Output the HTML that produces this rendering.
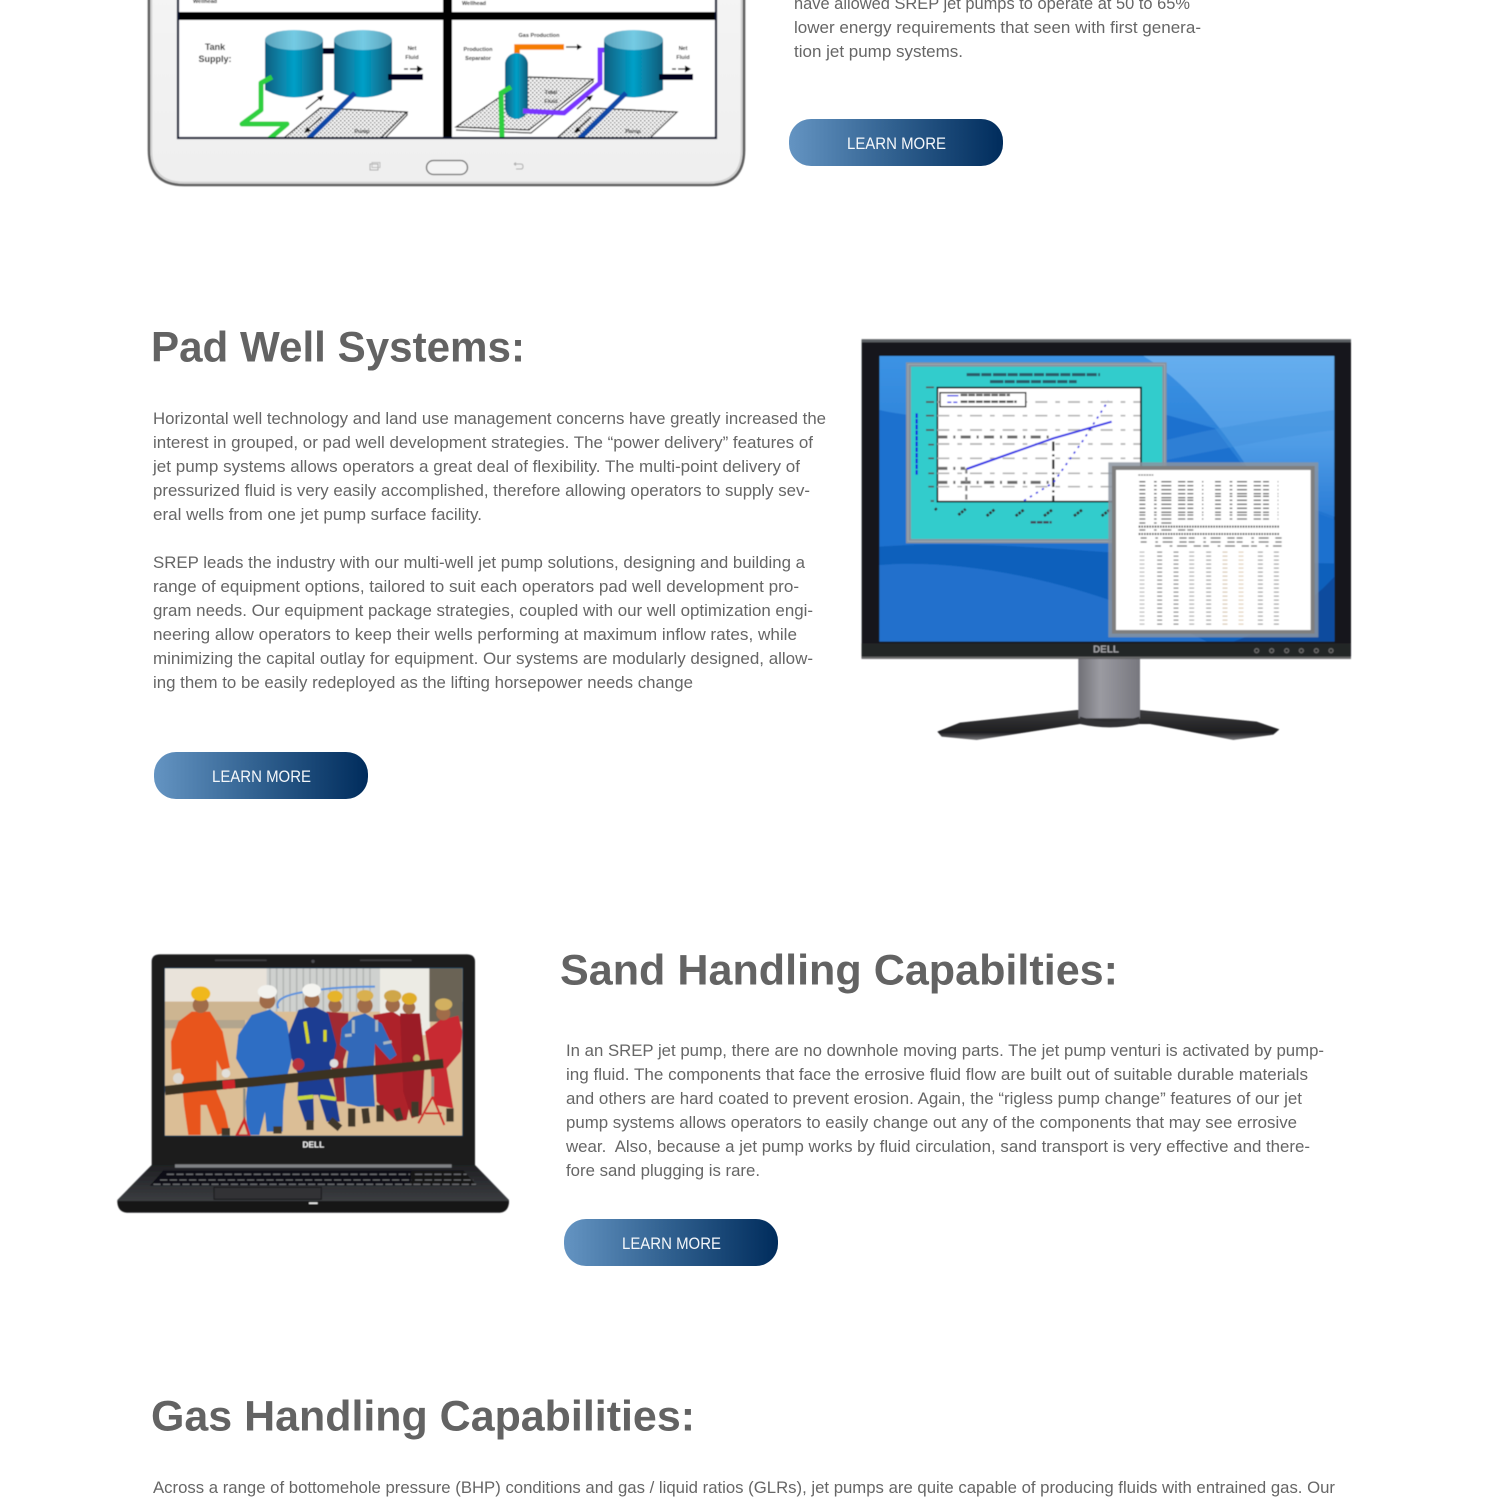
<!DOCTYPE html>
<html><head><meta charset="utf-8"><title>Jet Pump Systems</title>
<style>
html,body{margin:0;padding:0;background:#fff;width:1500px;height:1500px;overflow:hidden}
svg{display:block}
.b{font-family:"Liberation Sans",sans-serif;font-size:17px;fill:#666}
.h{font-family:"Liberation Sans",sans-serif;font-size:42.500px;font-weight:700;fill:#636363}
.l{font-family:"Liberation Sans",sans-serif;font-size:17px;fill:#f4f7fa}
.t{font-family:"Liberation Sans",sans-serif;font-weight:700;fill:#111;text-anchor:middle}
</style></head><body>
<svg width="1500" height="1500" viewBox="0 0 1500 1500" xmlns="http://www.w3.org/2000/svg">
<defs>
<linearGradient id="btn" x1="0" x2="1" y1="0" y2="0"><stop offset="0" stop-color="#6494c2"/><stop offset=".5" stop-color="#2f5f8e"/><stop offset="1" stop-color="#002c5c"/></linearGradient>
<linearGradient id="tank" x1="0" x2="1" y1="0" y2="0"><stop offset="0" stop-color="#0b5f80"/><stop offset=".5" stop-color="#05a0c8"/><stop offset="1" stop-color="#0b5a78"/></linearGradient>
<linearGradient id="tanktop" x1="0" x2="1" y1="0" y2="0"><stop offset="0" stop-color="#5aa0b8"/><stop offset=".5" stop-color="#74cbe4"/><stop offset="1" stop-color="#5aa0b8"/></linearGradient>
<linearGradient id="tab" x1="0" x2="0" y1="0" y2="1"><stop offset="0" stop-color="#f4f4f4"/><stop offset="1" stop-color="#efefef"/></linearGradient>
<linearGradient id="neck" x1="0" x2="1" y1="0" y2="0"><stop offset="0" stop-color="#6f6f76"/><stop offset=".35" stop-color="#9b9ba2"/><stop offset="1" stop-color="#77777e"/></linearGradient>
<linearGradient id="baseg" x1="0" x2="0" y1="0" y2="1"><stop offset="0" stop-color="#3c3c3e"/><stop offset=".75" stop-color="#1e1e20"/><stop offset="1" stop-color="#77777a"/></linearGradient>
<linearGradient id="scr" x1="0" x2="0" y1="0" y2="1"><stop offset="0" stop-color="#3c93e4"/><stop offset=".55" stop-color="#2074d0"/><stop offset="1" stop-color="#1b69c2"/></linearGradient>
<linearGradient id="lite" x1="0" x2="0" y1="0" y2="1"><stop offset="0" stop-color="#66aeee"/><stop offset=".55" stop-color="#4f9ce6"/><stop offset="1" stop-color="#2a7cd6"/></linearGradient>
<linearGradient id="lapb" x1="0" x2="0" y1="0" y2="1"><stop offset="0" stop-color="#1f2023"/><stop offset="1" stop-color="#44464a"/></linearGradient>
<clipPath id="tabclip"><rect x="179" y="-10" width="536" height="147"/></clipPath>
<clipPath id="monclip"><rect x="88" y="78" width="1365" height="857"/></clipPath>
<clipPath id="lapclip"><rect x="165" y="70" width="892" height="502"/></clipPath>
<pattern id="dots" width="4" height="4" patternUnits="userSpaceOnUse"><rect width="4" height="4" fill="#f4f4f4"/><rect x="0" y="0" width="1.500" height="1.500" fill="#777"/><rect x="2" y="2" width="1.500" height="1.500" fill="#8c8c8c"/></pattern>
<filter id="s1" x="-2%" y="-2%" width="104%" height="104%"><feGaussianBlur stdDeviation=".4"/></filter>
<filter id="s2" x="-2%" y="-2%" width="104%" height="104%"><feGaussianBlur stdDeviation="1.800"/></filter>
<filter id="s3" x="-2%" y="-2%" width="104%" height="104%"><feGaussianBlur stdDeviation="2.400"/></filter>
</defs>
<rect width="1500" height="1500" fill="#fff"/>

<!-- TABLET -->
<g filter="url(#s1)">
<path d="M149,-10 V150 Q149,185 184,185 H709 Q744,185 744,150 V-10 Z" fill="url(#tab)" stroke="#5e5e5e" stroke-width="2.600"/>
<path d="M151.500,-10 V150 Q151.500,182.500 184,182.500 H709 Q741.500,182.500 741.500,150 V-10" fill="none" stroke="#cfcfcf" stroke-width="1.500"/>
<rect x="178" y="-10" width="538" height="148" fill="#fff" stroke="#0c1230" stroke-width="2.200"/>
<g clip-path="url(#tabclip)">
<rect x="178" y="12" width="538" height="8" fill="#000"/>
<rect x="443" y="-10" width="9" height="148" fill="#000"/>
<polygon points="320,108 407,112 381,138 284,138" fill="url(#dots)" stroke="#222" stroke-width="1.200"/>
<path d="M407,112 L407,115 L385,138" fill="none" stroke="#222" stroke-width="1.200"/>
<path d="M265,40 V90 Q294,105 323,90 V40 Z" fill="url(#tank)"/><ellipse cx="294" cy="40" rx="29" ry="10" fill="url(#tanktop)"/>
<rect x="323" y="48" width="18" height="6" fill="#04041c"/>
<path d="M334,40 V90 Q363,105 392,90 V40 Z" fill="url(#tank)"/><ellipse cx="363" cy="40" rx="29" ry="10" fill="url(#tanktop)"/>
<rect x="388" y="74" width="35" height="6" fill="#04041c"/>
<polyline points="272,77 261,83 261,110 242,124 287,124 268,140" fill="none" stroke="#2fd040" stroke-width="5" stroke-linejoin="round"/>
<line x1="355" y1="93" x2="307" y2="140" stroke="#0b4aa8" stroke-width="5"/>
<path d="M306,109 L321,97 M306,131 L322,117" stroke="#111" stroke-width="1.200" fill="none"/>
<polygon points="324,95 317,97 321,101" fill="#111"/><polygon points="304,133 311,131 307,127" fill="#111"/>
<text class="t" x="215" y="50" font-size="9">Tank</text><text class="t" x="215" y="62" font-size="9">Supply:</text>
<text class="t" x="412" y="50" font-size="5.500">Net</text><text class="t" x="412" y="59" font-size="5.500">Fluid</text>
<path d="M404,69 h4 M410,69 h8" stroke="#111" stroke-width="1.200"/><polygon points="417,65.500 423,69 417,72.500" fill="#111"/>
<text class="t" x="362" y="133" font-size="5.500">Pump</text>
<text class="t" x="205" y="3" font-size="5.500">Wellhead</text>
<text class="t" x="474" y="5" font-size="5.500">Wellhead</text>
<polygon points="529,77 593,79 529,130 456,127" fill="url(#dots)" stroke="#222" stroke-width="1.200"/>
<path d="M593,79 L593,82 L531,133 L456,130" fill="none" stroke="#333" stroke-width="1.200"/>
<polygon points="591,108 677,112 650,138 557,138" fill="url(#dots)" stroke="#222" stroke-width="1.200"/>
<polyline points="517,58 517,47 564,47" fill="none" stroke="#f57c00" stroke-width="5.500"/>
<rect x="505" y="53" width="23" height="66" rx="11.500" fill="url(#tank)"/>
<polyline points="511,87 501,93 502,140" fill="none" stroke="#2fd040" stroke-width="5"/>
<polyline points="523,111 564,113 600,83 600,50 606,50" fill="none" stroke="#7a35ff" stroke-width="5"/>
<path d="M604,40 V90 Q633,105 663,90 V40 Z" fill="url(#tank)"/><ellipse cx="633.500" cy="40" rx="29.500" ry="10" fill="url(#tanktop)"/>
<rect x="659" y="74" width="34" height="6" fill="#04041c"/>
<line x1="626" y1="93" x2="578" y2="140" stroke="#0b4aa8" stroke-width="5"/>
<path d="M566,47 h12 M577,109 L590,97 M576,131 L591,117" stroke="#111" stroke-width="1.200" fill="none"/>
<polygon points="577,44 582,47 577,50" fill="#111"/><polygon points="593,95 586,97 590,101" fill="#111"/><polygon points="574,133 581,131 577,127" fill="#111"/>
<text class="t" x="539" y="37" font-size="5.500">Gas Production</text>
<text class="t" x="478" y="51" font-size="5.500">Production</text><text class="t" x="478" y="60" font-size="5.500">Separator</text>
<text class="t" x="551" y="94" font-size="5.500">Total</text><text class="t" x="551" y="103" font-size="5.500">Fluid</text>
<text class="t" x="683" y="50" font-size="5.500">Net</text><text class="t" x="683" y="59" font-size="5.500">Fluid</text>
<path d="M672,69 h4 M678,69 h8" stroke="#111" stroke-width="1.200"/><polygon points="685,65.500 691,69 685,72.500" fill="#111"/>
<text class="t" x="633" y="133" font-size="5.500">Pump</text>
</g>
<rect x="426.500" y="160.500" width="41" height="14" rx="7" fill="#f4f4f4" stroke="#666" stroke-width="1.300"/>
<rect x="370" y="164" width="8" height="6" fill="none" stroke="#aaa"/><rect x="372" y="162.500" width="8" height="5" fill="none" stroke="#bbb"/>
<path d="M514,164 h7 q2,0 2,2.500 q0,2.500 -2,2.500 h-5 M514,164 l2,-1.500 M514,164 l2,1.500" fill="none" stroke="#aaa"/>
</g>

<!-- TOP TEXT -->
<text class="b" x="794" y="9" textLength="396" lengthAdjust="spacingAndGlyphs">have allowed SREP jet pumps to operate at 50 to 65%</text>
<text class="b" x="794" y="33" textLength="407" lengthAdjust="spacingAndGlyphs">lower energy requirements that seen with first genera-</text>
<text class="b" x="794" y="57" textLength="169" lengthAdjust="spacingAndGlyphs">tion jet pump systems.</text>
<rect x="789" y="119" width="214" height="47" rx="22" fill="url(#btn)"/>
<text class="l" x="847" y="149" textLength="99" lengthAdjust="spacingAndGlyphs">LEARN MORE</text>

<!-- PAD WELL -->
<text class="h" x="151" y="361.500" textLength="374" lengthAdjust="spacingAndGlyphs">Pad Well Systems:</text>
<text class="b" x="153" y="424" textLength="673" lengthAdjust="spacingAndGlyphs">Horizontal well technology and land use management concerns have greatly increased the</text>
<text class="b" x="153" y="448" textLength="660" lengthAdjust="spacingAndGlyphs">interest in grouped, or pad well development strategies. The “power delivery” features of</text>
<text class="b" x="153" y="472" textLength="647" lengthAdjust="spacingAndGlyphs">jet pump systems allows operators a great deal of flexibility. The multi-point delivery of</text>
<text class="b" x="153" y="496" textLength="657" lengthAdjust="spacingAndGlyphs">pressurized fluid is very easily accomplished, therefore allowing operators to supply sev-</text>
<text class="b" x="153" y="520" textLength="329" lengthAdjust="spacingAndGlyphs">eral wells from one jet pump surface facility.</text>
<text class="b" x="153" y="568" textLength="652" lengthAdjust="spacingAndGlyphs">SREP leads the industry with our multi-well jet pump solutions, designing and building a</text>
<text class="b" x="153" y="592" textLength="646" lengthAdjust="spacingAndGlyphs">range of equipment options, tailored to suit each operators pad well development pro-</text>
<text class="b" x="153" y="616" textLength="660" lengthAdjust="spacingAndGlyphs">gram needs. Our equipment package strategies, coupled with our well optimization engi-</text>
<text class="b" x="153" y="640" textLength="644" lengthAdjust="spacingAndGlyphs">neering allow operators to keep their wells performing at maximum inflow rates, while</text>
<text class="b" x="153" y="664" textLength="660" lengthAdjust="spacingAndGlyphs">minimizing the capital outlay for equipment. Our systems are modularly designed, allow-</text>
<text class="b" x="153" y="688" textLength="540" lengthAdjust="spacingAndGlyphs">ing them to be easily redeployed as the lifting horsepower needs change</text>
<rect x="154" y="752" width="214" height="47" rx="22" fill="url(#btn)"/>
<text class="l" x="212" y="782" textLength="99" lengthAdjust="spacingAndGlyphs">LEARN MORE</text>

<!-- MONITOR (coordinates: 3x zoom) -->
<g transform="translate(850,330) scale(.33333)" filter="url(#s2)">
<polygon points="262,1205 330,1178 680,1140 870,1140 1220,1175 1288,1198 1270,1214 1150,1230 900,1182 690,1182 380,1230 275,1220" fill="url(#baseg)"/>
<rect x="685" y="985" width="185" height="180" fill="url(#neck)"/>
<path d="M690,1160 Q780,1190 868,1160 V1182 Q780,1202 690,1182Z" fill="#333335"/>
<rect x="35" y="28" width="1468" height="958" fill="#17181a"/>
<rect x="35" y="28" width="1468" height="9" fill="#5c6064"/>
<rect x="35" y="940" width="1468" height="46" fill="#242527"/>
<rect x="35" y="980" width="1468" height="6" fill="#6a6a6c"/>
<g clip-path="url(#monclip)">
<rect x="88" y="78" width="1365" height="857" fill="url(#scr)"/>
<path d="M880,78 C1000,150 1120,290 1235,480 L1453,560 V78Z" fill="url(#lite)"/>
<path d="M950,255 L1095,295 L1240,490 L1453,570 V935 H88 V240 C300,290 700,255 950,255Z" fill="#1f71cf"/>
<path d="M950,330 C1150,280 1320,260 1453,240 V300 C1300,320 1150,350 950,390Z" fill="#4190dc" opacity=".45"/>
<path d="M88,650 C500,620 950,700 1453,700 V935 H88Z" fill="#1160bc"/>
<path d="M88,705 C400,680 800,790 1070,935 H88Z" fill="#2070cc"/>
<path d="M1150,935 C1300,880 1400,800 1453,740 V935Z" fill="#0d4c9e"/>
</g>
<text x="768" y="968" font-family="Liberation Sans,sans-serif" font-weight="700" font-size="30" fill="#a4a4a8" text-anchor="middle">DELL</text>
<g fill="none" stroke="#6a6a6a" stroke-width="4"><circle cx="1220" cy="962" r="6"/><circle cx="1265" cy="962" r="6"/><circle cx="1310" cy="962" r="6"/><circle cx="1354" cy="962" r="6"/><circle cx="1399" cy="962" r="6"/><circle cx="1443" cy="962" r="6"/></g>
<!-- chart window -->
<rect x="168" y="97" width="782" height="543" fill="#86929e"/>
<rect x="174" y="103" width="770" height="531" fill="none" stroke="#a6afb8" stroke-width="2"/>
<rect x="183" y="110" width="754" height="517" fill="#33cccc"/>
<path d="M350,134 H750 M420,155 H680" stroke="#2c5a68" stroke-width="9" stroke-dasharray="40 4 30 5"/>
<rect x="262" y="173" width="611" height="342" fill="#fff" stroke="#111" stroke-width="5"/>
<path d="M262,216 H870 M262,257 H870 M262,300 H870 M262,342 H870 M262,385 H870 M262,430 H870 M262,470 H870" stroke="#b4b4b4" stroke-width="5" stroke-dasharray="36 24 14 24"/>
<path d="M262,321 H600 M262,415 H345 M262,457 H600" stroke="#6a6a6a" stroke-width="9" stroke-dasharray="30 18 6 16"/>
<path d="M610,335 V515" stroke="#333" stroke-width="7" stroke-dasharray="28 10 6 10"/>
<path d="M349,415 V515" stroke="#888" stroke-width="7" stroke-dasharray="16 10"/>
<polyline points="350,417 610,325 785,275" fill="none" stroke="#2727e6" stroke-width="6"/>
<polyline points="522,512 610,458 700,330 775,212" fill="none" stroke="#2727e6" stroke-width="5" stroke-dasharray="7 14"/>
<rect x="270" y="188" width="257" height="42" fill="#fff" stroke="#111" stroke-width="4"/>
<path d="M292,197 H325" stroke="#2727e6" stroke-width="4"/><path d="M292,217 H325" stroke="#2727e6" stroke-width="4" stroke-dasharray="12 6"/>
<path d="M332,195 H480 M332,215 H500" stroke="#555" stroke-width="7" stroke-dasharray="20 3"/>
<path d="M200,250 V435" stroke="#1515e0" stroke-width="6" stroke-dasharray="14 3"/>
<path d="M228,172 H252 M228,216 H252 M228,257 H252 M228,300 H252 M235,344 H252 M235,385 H252 M235,430 H252 M235,470 H252 M242,513 H252" stroke="#555" stroke-width="5"/>
<path d="M255,535 l5,5 M325,555 l22,-18 M410,558 l24,-20 M497,558 l26,-20 M582,558 l26,-20 M672,558 l26,-20 M755,558 l26,-20" stroke="#333" stroke-width="8" stroke-dasharray="8 3"/>
<path d="M542,577 H605" stroke="#445" stroke-width="7" stroke-dasharray="16 3"/>
<!-- report window -->
<rect x="775" y="397" width="630" height="525" fill="#8b94a0" fill-opacity=".85"/>
<rect x="786" y="408" width="608" height="503" fill="#7f7f7f"/>
<rect x="798" y="420" width="584" height="480" fill="#fff"/>
<path d="M865,435 H910" stroke="#777" stroke-width="4" stroke-dasharray="6 2"/>
<g stroke="#666" stroke-width="4" stroke-dasharray="18 26 8 14 30 20 22 6">
<path d="M868,455 H1060 M868,467 H1060 M868,479 H1060 M868,491 H1060 M868,503 H1060 M868,511 H1060 M868,523 H1060 M868,535 H1060 M868,547 H1060 M868,555 H1060 M868,567 H1060"/>
<path d="M1095,455 H1285 M1095,467 H1285 M1095,479 H1285 M1095,491 H1285 M1095,499 H1285 M1095,511 H1285 M1095,523 H1285 M1095,535 H1285 M1095,547 H1285 M1095,555 H1285 M1095,567 H1285"/>
<path d="M868,579 H965 M868,600 H1040 M872,624 H1295 M872,636 H1295 M915,648 H1295"/>
</g>
<path d="M866,590 H1290 M866,612 H1290" stroke="#555" stroke-width="6" stroke-dasharray="5 3"/>
<g stroke-width="15" stroke-dasharray="3 9" fill="none" stroke="#aaa">
<path d="M876,665 V885"/><path d="M929,665 V885" stroke="#666"/><path d="M978,665 V885" stroke="#666"/><path d="M1025,665 V885" stroke="#999"/><path d="M1076,665 V885" stroke="#888"/><path d="M1125,665 V885" stroke="#d0bca0"/><path d="M1173,665 V885" stroke="#dcc8ac"/><path d="M1231,665 V885" stroke="#888"/><path d="M1279,665 V885" stroke="#888"/>
</g>
</g>

<!-- SAND -->
<text class="h" x="560" y="984.500" textLength="558" lengthAdjust="spacingAndGlyphs">Sand Handling Capabilties:</text>
<text class="b" x="566" y="1056" textLength="758" lengthAdjust="spacingAndGlyphs">In an SREP jet pump, there are no downhole moving parts. The jet pump venturi is activated by pump-</text>
<text class="b" x="566" y="1080" textLength="742" lengthAdjust="spacingAndGlyphs">ing fluid. The components that face the errosive fluid flow are built out of suitable durable materials</text>
<text class="b" x="566" y="1104" textLength="736" lengthAdjust="spacingAndGlyphs">and others are hard coated to prevent erosion. Again, the “rigless pump change” features of our jet</text>
<text class="b" x="566" y="1128" textLength="731" lengthAdjust="spacingAndGlyphs">pump systems allows operators to easily change out any of the components that may see errosive</text>
<text class="b" x="566" y="1152" textLength="744" lengthAdjust="spacingAndGlyphs" xml:space="preserve">wear.  Also, because a jet pump works by fluid circulation, sand transport is very effective and there-</text>
<text class="b" x="566" y="1176" textLength="194" lengthAdjust="spacingAndGlyphs">fore sand plugging is rare.</text>
<rect x="564" y="1219" width="214" height="47" rx="22" fill="url(#btn)"/>
<text class="l" x="622" y="1249" textLength="99" lengthAdjust="spacingAndGlyphs">LEARN MORE</text>

<!-- LAPTOP (coordinates: 3x zoom) -->
<g transform="translate(110,945) scale(.33333)" filter="url(#s2)">
<path d="M125,660 V50 Q125,28 150,28 H1070 Q1095,28 1095,50 V660 Z" fill="#1b1c1f"/>
<path d="M125,660 H1095 L1197,765 Q1197,800 1170,803 H50 Q22,800 22,765 Z" fill="url(#lapb)"/>
<path d="M22,768 H1197 Q1197,800 1170,803 H50 Q22,800 22,768Z" fill="#131416"/>
<rect x="195" y="658" width="830" height="10" fill="#808285"/>
<path d="M160,676 H905 L900,722 H120Z" fill="#101114"/>
<path d="M905,676 H1060 L1100,722 H900Z" fill="#121316"/>
<path d="M170,688 H900 M150,705 H905 M130,718 H905 M915,688 H1070 M915,705 H1090 M910,718 H1098" stroke="#6a6c6f" stroke-width="4" stroke-dasharray="22 7"/>
<rect x="312" y="727" width="322" height="36" fill="#303235" stroke="#141517" stroke-width="3"/>
<rect x="597" y="772" width="26" height="5" fill="#eee"/>
<path d="M315,46 H470 M750,46 H905" stroke="#3c3d40" stroke-width="5"/>
<circle cx="609" cy="49" r="5" fill="#4a4b4f"/>
<text x="610" y="607" font-family="Liberation Sans,sans-serif" font-weight="700" font-size="25" fill="#f6f6f6" text-anchor="middle">DELL</text>
<rect x="163" y="68" width="896" height="506" fill="#0d3c5e"/>
<g clip-path="url(#lapclip)">
<rect x="165" y="70" width="892" height="502" fill="#dbbe96"/>
<rect x="165" y="70" width="892" height="100" fill="#e9e3da"/>
<rect x="165" y="170" width="310" height="55" fill="#cdb591"/>
<rect x="470" y="70" width="340" height="130" fill="#cfd1cf"/>
<path d="M480,70 V200 M500,70 V200 M520,70 V200 M540,70 V200 M560,70 V200 M580,70 V200 M600,70 V200 M620,70 V200 M640,70 V200 M660,70 V200 M680,70 V200 M700,70 V200 M720,70 V200 M740,70 V200 M760,70 V200 M780,70 V200" stroke="#b5b8b6" stroke-width="5"/>
<rect x="810" y="70" width="150" height="200" fill="#ecebe4"/>
<rect x="958" y="70" width="100" height="160" fill="#6a6455"/>
<rect x="165" y="225" width="240" height="25" fill="#8a8c86" opacity=".5"/>
<path d="M505,190 Q490,160 560,145 Q660,125 795,125" fill="none" stroke="#5b93dd" stroke-width="6"/>
<!-- back row -->
<polygon points="650,200 715,205 715,300 700,350 705,470 680,470 660,340" fill="#a02a30"/>
<polygon points="790,210 848,200 915,240 925,330 905,345 905,450 890,525 860,530 800,470" fill="#ae2029"/>
<polygon points="870,205 930,205 945,340 935,510 905,520 880,440" fill="#9b1f27"/>
<polygon points="945,260 990,225 1045,212 1057,260 1052,320 1010,370 1030,490 975,480 960,360" fill="#c82a33"/>
<!-- orange -->
<polygon points="245,200 300,200 338,260 360,368 335,375 320,345 320,440 345,500 358,560 322,570 290,480 272,480 272,570 235,570 222,480 215,400 212,370 185,375 183,290 205,230" fill="#e8551f"/>
<!-- blue 1 -->
<polygon points="425,210 480,193 530,230 548,330 530,400 520,470 518,560 470,560 465,500 448,570 412,570 407,470 415,400 395,370 378,340 385,270" fill="#2e6ec4"/>
<!-- navy -->
<polygon points="565,195 610,183 655,205 680,300 670,350 655,395 678,460 690,530 650,530 625,450 610,450 612,530 585,530 562,460 565,390 545,340 535,270" fill="#1a3d92"/>
<path d="M585,230 L595,295 M645,255 V290" stroke="#d5d52a" stroke-width="10"/>
<path d="M562,460 L610,455 M630,455 L678,462" stroke="#c8d83a" stroke-width="12"/>
<!-- blue 3 -->
<polygon points="730,215 765,205 815,235 860,330 840,345 795,295 790,400 795,485 745,485 710,475 705,400 715,320 690,300 695,250" fill="#3069b9"/>
<path d="M730,225 V265 M800,225 V260 M705,272 L725,270 M820,295 L845,290" stroke="#a9b6c0" stroke-width="9"/>
<!-- boots -->
<path d="M725,490 V545 M765,490 L770,535 M810,480 V530 M860,490 L870,525 M915,470 V515 M1020,490 V530 M600,525 V555 M660,525 L690,550 M490,555 H515 M335,560 H360" stroke="#40382c" stroke-width="22"/>
<!-- heads + helmets -->
<g fill="#a06c48">
<circle cx="272" cy="180" r="24"/><circle cx="472" cy="167" r="24"/><circle cx="606" cy="165" r="23"/><circle cx="675" cy="182" r="20"/><circle cx="765" cy="182" r="23"/><circle cx="848" cy="180" r="22"/><circle cx="897" cy="188" r="19"/><circle cx="1000" cy="205" r="21"/>
</g>
<g>
<ellipse cx="272" cy="146" rx="29" ry="22" fill="#f0b81c"/>
<ellipse cx="472" cy="140" rx="29" ry="20" fill="#f2f2ee"/>
<ellipse cx="605" cy="136" rx="28" ry="20" fill="#f4f4f0"/>
<ellipse cx="675" cy="154" rx="23" ry="17" fill="#e6b42a"/>
<ellipse cx="765" cy="152" rx="25" ry="17" fill="#d9b050"/>
<ellipse cx="848" cy="153" rx="26" ry="18" fill="#cfa648"/>
<ellipse cx="898" cy="161" rx="23" ry="18" fill="#e0ae2c"/>
<ellipse cx="1001" cy="178" rx="26" ry="18" fill="#d2b060"/>
</g>
<!-- gloves -->
<circle cx="205" cy="400" r="16" fill="#dcd9d2"/><circle cx="348" cy="385" r="13" fill="#e2e0da"/><circle cx="565" cy="358" r="18" fill="#b9323a"/><circle cx="672" cy="355" r="13" fill="#ddd"/><circle cx="920" cy="340" r="11" fill="#c0b060"/>
<!-- pipe -->
<polyline points="165,437 270,425 420,412 560,398 680,385 820,373 1000,355" fill="none" stroke="#3a3024" stroke-width="28"/>
<path d="M338,420 L375,417" stroke="#d0282c" stroke-width="26"/>
<!-- stands -->
<path d="M403,430 V530" stroke="#8c8a80" stroke-width="7"/>
<path d="M403,525 L380,572 H418Z" fill="none" stroke="#d02a28" stroke-width="8"/>
<path d="M968,395 V455" stroke="#9a978c" stroke-width="8"/>
<path d="M968,455 L925,535 M968,455 L1003,540 M945,505 H995" stroke="#d02a28" stroke-width="6" fill="none"/>
</g>
</g>

<!-- GAS -->
<text class="h" x="151" y="1430.500" textLength="544" lengthAdjust="spacingAndGlyphs">Gas Handling Capabilities:</text>
<text class="b" x="153" y="1493" textLength="1182" lengthAdjust="spacingAndGlyphs">Across a range of bottomehole pressure (BHP) conditions and gas / liquid ratios (GLRs), jet pumps are quite capable of producing fluids with entrained gas. Our</text>
</svg>
</body></html>
